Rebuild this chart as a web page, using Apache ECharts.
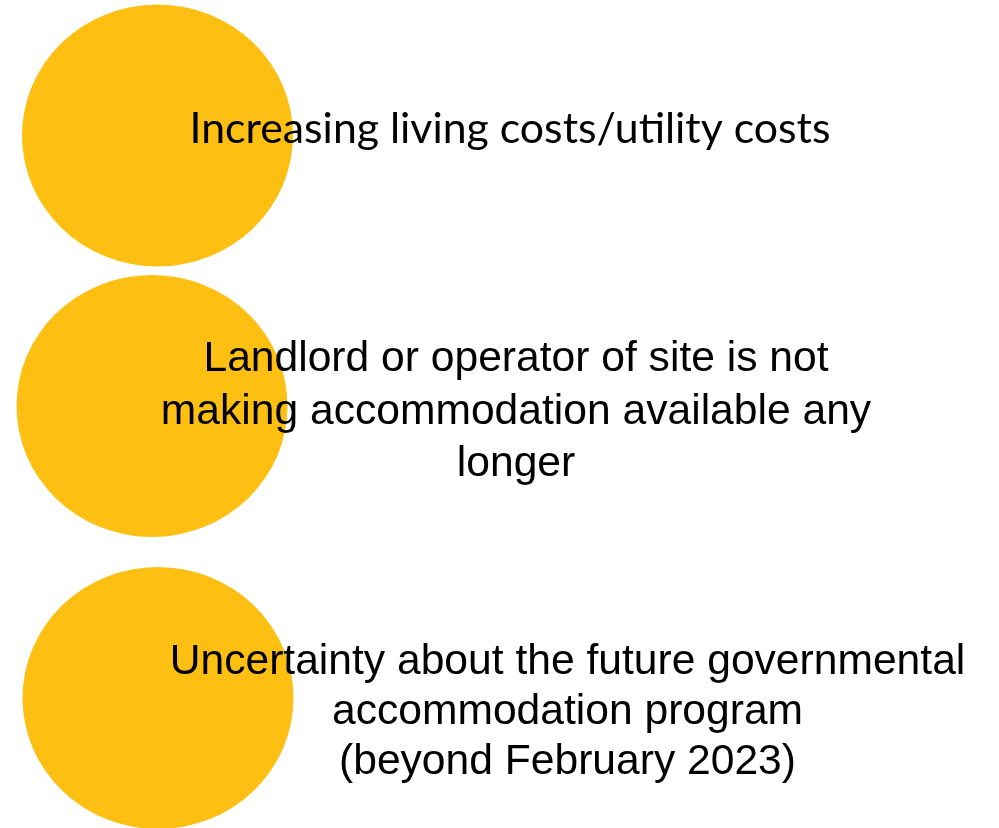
<!DOCTYPE html>
<html>
<head>
<meta charset="utf-8">
<script src="https://cdn.jsdelivr.net/npm/echarts@6/dist/echarts.min.js"></script>
<style>
html,body{margin:0;padding:0;background:#fff;}
#c{width:999px;height:828px;}
</style>
</head>
<body>
<div id="c"></div>
<script>
// Data
const factors = [
  'Increasing living costs/utility costs',
  'Landlord or operator of site is not\nmaking accommodation available any\nlonger',
  'Uncertainty about the future governmental\naccommodation program\n(beyond February 2023)'
];
const positions = [0, 0, 0];

// Styling per item (not data)
const itemStyles = [
  { symbolOffset: [0, 0], label: { offset: [352.5, -6], fontFamily: 'Lato', fontSize: 42.8, lineHeight: 52 } },
  { symbolOffset: [-5.5, -10.75], label: { offset: [364, 6], fontFamily: 'Liberation Sans', fontSize: 42.6, lineHeight: 52.5 } },
  { symbolOffset: [0.5, 0], label: { offset: [409.5, 14.5], fontFamily: 'Liberation Sans', fontSize: 42.6, lineHeight: 50 } }
];

const chart = echarts.init(document.getElementById('c'), null, { renderer: 'canvas' });
chart.setOption({
  animation: false,
  backgroundColor: '#ffffff',
  grid: { left: 157.5, right: 0, top: 135.5, bottom: 130 },
  xAxis: { type: 'value', min: 0, max: 1, show: false },
  yAxis: { type: 'category', data: factors, inverse: true, boundaryGap: false, show: false },
  series: [{
    type: 'scatter',
    clip: false,
    silent: true,
    symbol: 'circle',
    symbolSize: [271, 262],
    itemStyle: { color: '#FDC012', opacity: 1 },
    label: {
      show: true,
      position: 'inside',
      align: 'center',
      verticalAlign: 'middle',
      color: '#000000',
      formatter: p => p.name
    },
    data: factors.map((f, i) => ({
      name: f,
      value: [positions[i], f],
      symbolOffset: itemStyles[i].symbolOffset,
      label: Object.assign({ align: 'center' }, itemStyles[i].label)
    }))
  }]
});
</script>
</body>
</html>
